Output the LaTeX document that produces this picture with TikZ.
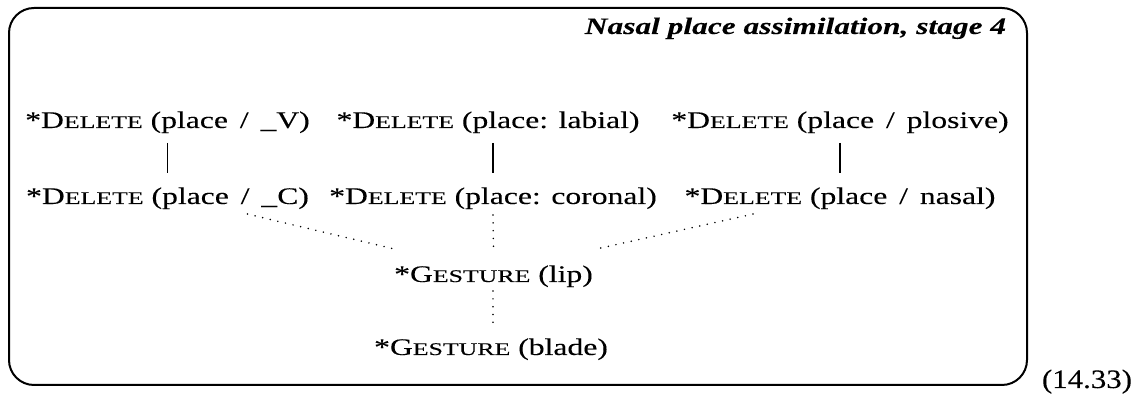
\documentclass[tikz,border=0pt]{standalone}
\usepackage{fontspec}
\setmainfont{Liberation Serif}[FakeStretch=1.33, FakeBold=0.12]
\newfontfamily\scfont{Liberation Serif}[FakeStretch=1.45, FakeBold=0.12]
\newfontfamily\numfont{Liberation Serif}[FakeStretch=1.16, FakeBold=0.12]
\newcommand{\smc}[2]{#1{\scfont\fontsize{8.9}{10}\selectfont #2}}
\tikzset{
  lbl/.style={anchor=base, inner sep=0pt, outer sep=0pt, font=\fontsize{11.9}{14}\selectfont},
  solidlink/.style={line width=0.8pt},
  dotlink/.style={line width=0.85pt, line cap=round, dash pattern=on 0pt off 3.9pt},
  frame/.style={line width=1pt, rounded corners=12.5pt}
}
\begin{document}
\begin{tikzpicture}[x=0.5pt, y=-0.5pt]
\useasboundingbox (0,0) rectangle (1142,394);
\draw[frame] (9,8) rectangle (1027,385);
\node[lbl, anchor=base east, font=\fontsize{11.8}{14}\selectfont\bfseries\itshape] (title) at (1006,34) {Nasal place assimilation, stage 4};
\node[lbl, anchor=base west, font=\numfont\fontsize{13.3}{15}\selectfont] (num) at (1042,388) {(14.33)};
% row 1
\node[lbl] (a1) at (167.5,128) {*\smc{D}{ELETE} (place \,/\, \_V)};
\node[lbl] (a2) at (488,128) {*\smc{D}{ELETE} (place: labial)};
\node[lbl] (a3) at (840,128) {*\smc{D}{ELETE} (place \,/\, plosive)};
% row 2
\node[lbl] (b1) at (167.5,204) {*\smc{D}{ELETE} (place \,/\, \_C)};
\node[lbl] (b2) at (493,204) {*\smc{D}{ELETE} (place: coronal)};
\node[lbl] (b3) at (840,204) {*\smc{D}{ELETE} (place \,/\, nasal)};
% rows 3, 4
\node[lbl] (lip) at (493.5,282) {*\smc{G}{ESTURE} (lip)};
\node[lbl] (blade) at (491,355) {*\smc{G}{ESTURE} (blade)};
% solid links
\draw[solidlink] (b1.north |- 0,143) -- (b1.north |- 0,173);
\draw[solidlink] (b2.north |- 0,143) -- (b2.north |- 0,173);
\draw[solidlink] (b3.north |- 0,143) -- (b3.north |- 0,173);
% dotted links
\draw[dotlink] ([xshift=40pt,yshift=-2.5pt]b1.south) -- ([xshift=-1pt,yshift=8.5pt]lip.north west);
\draw[dotlink] ([yshift=-3pt]b2.south) -- ([yshift=8pt]lip.north);
\draw[dotlink] ([xshift=-43.5pt,yshift=-2.5pt]b3.south) -- ([xshift=3pt,yshift=8.5pt]lip.north east);
\draw[dotlink] ([xshift=-0.25pt,yshift=-2pt]lip.south) -- ([xshift=1pt,yshift=7pt]blade.north);
\end{tikzpicture}
\end{document}
